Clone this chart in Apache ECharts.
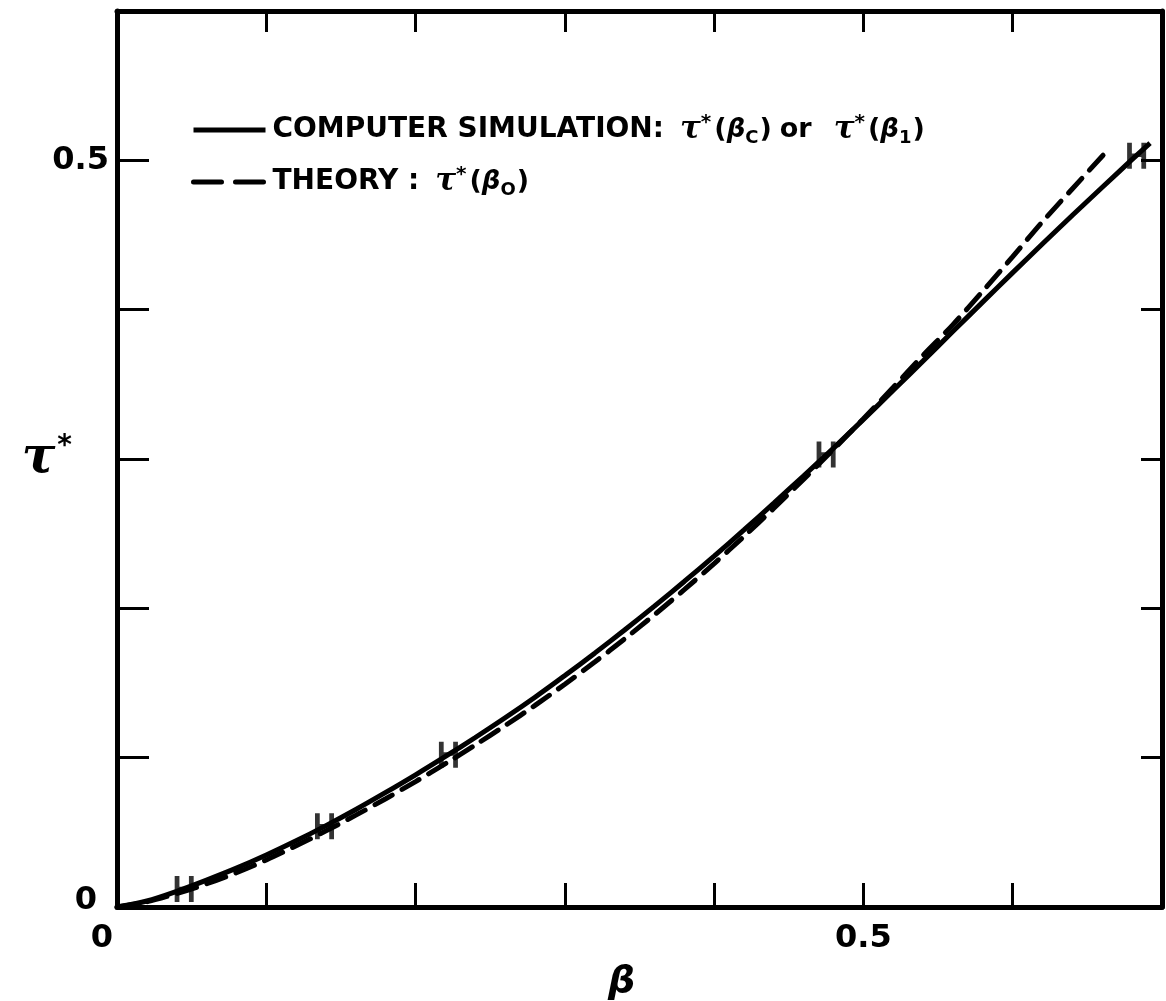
<!DOCTYPE html>
<html>
<head>
<meta charset="utf-8">
<script src="https://cdn.jsdelivr.net/npm/echarts@6/dist/echarts.min.js"></script>
<style>
  html, body { margin: 0; padding: 0; background: #fff; }
  #chart { width: 1166px; height: 1001px; }
</style>
</head>
<body>
<div id="chart"></div>
<script>
// ---- data ----
var simBeta = [0, 0.02, 0.04, 0.06, 0.08, 0.10, 0.12, 0.14, 0.16, 0.18, 0.20, 0.22, 0.24, 0.26, 0.28, 0.30, 0.32, 0.34, 0.36, 0.38, 0.40, 0.42, 0.44, 0.46, 0.48, 0.50, 0.52, 0.54, 0.56, 0.58, 0.60, 0.62, 0.64, 0.66, 0.68, 0.692];
var simTau  = [0, 0.004, 0.0105, 0.018, 0.026, 0.0348, 0.0443, 0.0545, 0.0653, 0.0767, 0.0885, 0.1008, 0.1135, 0.1267, 0.1405, 0.1550, 0.1700, 0.1855, 0.2015, 0.2180, 0.2350, 0.2525, 0.2705, 0.2888, 0.3073, 0.3265, 0.3460, 0.3657, 0.3855, 0.4052, 0.4248, 0.4441, 0.4632, 0.4820, 0.5006, 0.5115];
var theoryBeta = [0, 0.02, 0.04, 0.06, 0.08, 0.10, 0.12, 0.14, 0.16, 0.18, 0.20, 0.22, 0.24, 0.26, 0.28, 0.30, 0.32, 0.34, 0.36, 0.38, 0.40, 0.42, 0.44, 0.46, 0.48, 0.50, 0.52, 0.54, 0.56, 0.58, 0.60, 0.62, 0.64, 0.662];
var theoryTau  = [0, 0.0035, 0.009, 0.0155, 0.023, 0.0315, 0.041, 0.051, 0.0615, 0.0725, 0.084, 0.096, 0.1085, 0.1215, 0.135, 0.1492, 0.1640, 0.1795, 0.1957, 0.2125, 0.2300, 0.2482, 0.2670, 0.2865, 0.3065, 0.3270, 0.3480, 0.3695, 0.3900, 0.4125, 0.4355, 0.4590, 0.4810, 0.5050];
var markBeta = [0.045, 0.139, 0.222, 0.475, 0.683];
var markTau  = [0.012, 0.054, 0.102, 0.303, 0.503];
var xLabels = {"0": "{z|0}", "0.5": "0.5"};
var yLabels = {"0": "{z|0}", "0.5": "0.5"};
var simName = 'COMPUTER SIMULATION';
var theoryName = 'THEORY';

function zip(a, b) { return a.map(function (v, i) { return [v, b[i]]; }); }
function lab(map) {
  return function (v) { var k = String(Math.round(v * 10) / 10); return map[k] || ''; };
}

var FONT = 'DejaVu Sans';
var richBase = {
  t:   { fontFamily: FONT, fontSize: 28, fontWeight: 'bold', color: '#000', lineHeight: 34 },
  p:   { fontFamily: FONT, fontSize: 27, fontWeight: 'bold', color: '#000', lineHeight: 34 },
  g:   { fontFamily: 'DejaVu Serif', fontSize: 31, fontStyle: 'italic', fontWeight: 'bold', color: '#000', lineHeight: 34 },
  g1:  { fontFamily: 'DejaVu Serif', fontSize: 31, fontStyle: 'italic', fontWeight: 'bold', color: '#000', lineHeight: 34, padding: [0, 0, 0, 16] },
  or:  { fontFamily: FONT, fontSize: 27, fontWeight: 'bold', color: '#000', lineHeight: 34, padding: [0, 22, 0, 8] },
  b:   { fontFamily: 'DejaVu Sans', fontSize: 26, fontStyle: 'italic', fontWeight: 'bold', color: '#000', lineHeight: 34 },
  sup: { fontFamily: 'DejaVu Sans', fontSize: 20, fontWeight: 'bold', color: '#000', verticalAlign: 'top', lineHeight: 34, padding: [0, 3, 12, 0] },
  sub: { fontFamily: FONT, fontSize: 18, fontWeight: 'bold', color: '#000', verticalAlign: 'bottom', lineHeight: 34, padding: [12, 1, 0, 0] }
};

var tickFont = { fontFamily: FONT, fontSize: 32, fontWeight: 'bold', color: '#000' };

var chart = echarts.init(document.getElementById('chart'));
var H = 'path://M0,0 L2.5,0 L2.5,9 L7.5,9 L7.5,0 L10,0 L10,22 L7.5,22 L7.5,12 L2.5,12 L2.5,22 L0,22 Z';

chart.setOption({
  animation: false,
  backgroundColor: '#fff',
  grid: { left: 117, right: 4, top: 11, bottom: 94, containLabel: false, outerBoundsMode: 'none' },
  legend: {
    orient: 'vertical',
    left: 186, top: 108,
    itemWidth: 72, itemHeight: 5, itemGap: 18,
    itemStyle: { opacity: 0 },
    lineStyle: { width: 5 },
    data: [
      { name: simName },
      { name: theoryName, lineStyle: { type: [28, 14], width: 5 } }
    ],
    textStyle: { rich: richBase, padding: [0, 0, 0, 2] },
    formatter: function (name) {
      if (name === simName) {
        return '{t|COMPUTER SIMULATION:}{g1|τ}{sup|*}{p|(}{b|β}{sub|C}{p|)}{or|or}{g|τ}{sup|*}{p|(}{b|β}{sub|1}{p|)}';
      }
      return '{t|THEORY :}{g1|τ}{sup|*}{p|(}{b|β}{sub|O}{p|)}';
    }
  },
  xAxis: [
    {
      type: 'value', min: 0, max: 0.7, interval: 0.1, position: 'bottom',
      axisLine: { show: true, onZero: false, lineStyle: { color: '#000', width: 5 } },
      axisTick: { show: true, inside: true, length: 24, lineStyle: { color: '#000', width: 3 } },
      axisLabel: Object.assign({ formatter: lab(xLabels), margin: 16, showMinLabel: true, showMaxLabel: true,
        rich: { z: Object.assign({ padding: [0, 30, 0, 0] }, tickFont) } }, tickFont),
      splitLine: { show: false },
      name: 'β', nameLocation: 'middle', nameGap: 56,
      nameTextStyle: { fontFamily: 'DejaVu Sans', fontSize: 38, fontStyle: 'italic', fontWeight: 'bold', color: '#000', padding: [0, 36, 0, 0] }
    },
    {
      type: 'value', min: 0, max: 0.7, interval: 0.1, position: 'top',
      axisLine: { show: true, onZero: false, lineStyle: { color: '#000', width: 5 } },
      axisTick: { show: true, inside: true, length: 21, lineStyle: { color: '#000', width: 3 } },
      axisLabel: { show: false }, splitLine: { show: false }
    }
  ],
  yAxis: [
    {
      type: 'value', min: 0, max: 0.6, interval: 0.1, position: 'left',
      axisLine: { show: true, onZero: false, lineStyle: { color: '#000', width: 5 } },
      axisTick: { show: true, inside: true, length: 32, lineStyle: { color: '#000', width: 3 } },
      axisLabel: Object.assign({ formatter: lab(yLabels), margin: 8, showMinLabel: true,
        rich: { z: Object.assign({ padding: [0, 12, 12, 0] }, tickFont) } }, tickFont),
      splitLine: { show: false },
      name: '{g|τ}{s|*}', nameLocation: 'middle', nameGap: 45, nameRotate: 0, nameMoveOverlap: false,
      nameTextStyle: {
        rich: {
          g: { fontFamily: 'DejaVu Serif', fontSize: 50, fontStyle: 'italic', fontWeight: 'bold', color: '#000', lineHeight: 52 },
          s: { fontFamily: 'DejaVu Sans', fontSize: 28, fontWeight: 'bold', color: '#000', verticalAlign: 'top', lineHeight: 52, padding: [0, 0, 22, 2] }
        }
      }
    },
    {
      type: 'value', min: 0, max: 0.6, interval: 0.1, position: 'right',
      axisLine: { show: true, onZero: false, lineStyle: { color: '#000', width: 5 } },
      axisTick: { show: true, inside: true, length: 21, lineStyle: { color: '#000', width: 3 } },
      axisLabel: { show: false }, splitLine: { show: false }
    }
  ],
  series: [
    {
      name: simName, type: 'line', data: zip(simBeta, simTau), smooth: 0.3,
      symbol: 'none', lineStyle: { color: '#000', width: 5, type: 'solid' },
      itemStyle: { color: '#000' }, z: 3
    },
    {
      name: theoryName, type: 'line', data: zip(theoryBeta, theoryTau), smooth: 0.3,
      symbol: 'none', lineStyle: { color: '#000', width: 5, type: [20, 11], cap: 'round' },
      itemStyle: { color: '#000' }, z: 3
    },
    {
      name: 'points', type: 'scatter', data: zip(markBeta, markTau),
      symbol: H, symbolSize: [19, 26], itemStyle: { color: '#000' }, z: 4
    }
  ]
});
</script>
</body>
</html>
